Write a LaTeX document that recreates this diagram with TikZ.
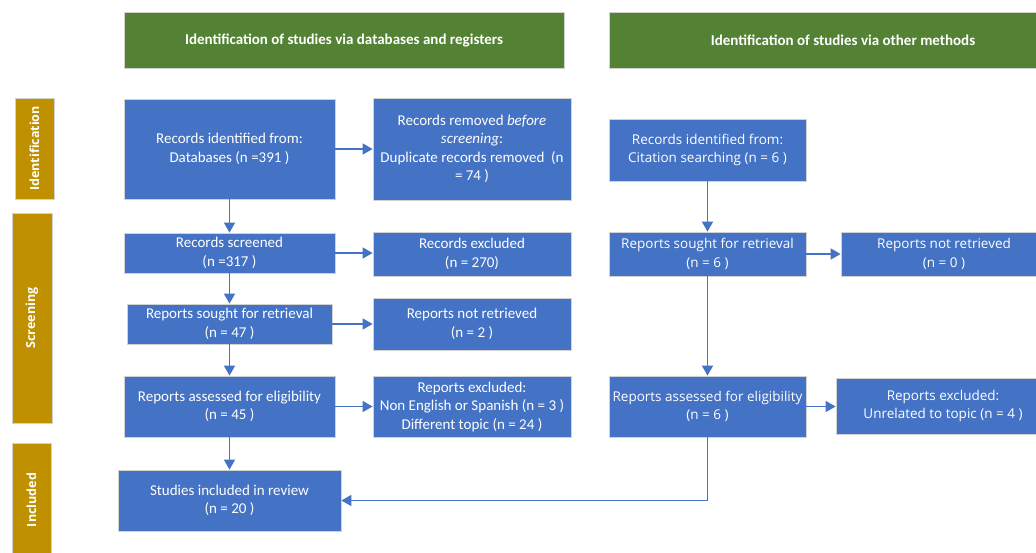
\documentclass[tikz,border=0pt]{standalone}
\usepackage{fontspec}
\setmainfont{Carlito}
\newfontfamily\segoefont{Open Sans}
\usetikzlibrary{arrows.meta}
\definecolor{prismablue}{HTML}{4472C4}
\definecolor{prismagreen}{HTML}{548235}
\definecolor{prismagold}{HTML}{BF9000}
\tikzset{
    box/.style={draw=gray!35,line width=0.8pt,fill=prismablue,text=white,align=center,inner sep=2pt,font=\fontsize{15}{18.5}\selectfont},
    rbox/.style={box,font=\segoefont\fontsize{13.5}{18.5}\selectfont},
    header/.style={draw=gray!35,line width=0.8pt,fill=prismagreen,text=white,font=\bfseries\fontsize{15}{17}\selectfont},
    phase/.style={draw=gray!35,line width=0.8pt,fill=prismagold,text=white,rotate=90,font=\segoefont\bfseries\fontsize{12.5}{14}\selectfont},
    arr/.style={draw=prismablue,line width=1.5pt,-{Triangle[length=10pt,width=11pt]}}
}
\begin{document}
\begin{tikzpicture}[x=1pt,y=-1pt]
    	        \clip (0,0) rectangle (1036,552);
    	        % Headers
    	        \node[header,minimum width=440pt,minimum height=56pt] (hdb) at (344,40) {Identification of studies via databases and registers};
    	        \node[header,minimum width=468pt,minimum height=56pt] (hot) at (843,40) {Identification of studies via other methods};
    	        % Phases
    	        \node[phase,minimum width=101pt,minimum height=39pt] (pid) at (34.5,148.5) {Identification};
    	        \node[phase,minimum width=210pt,minimum height=40pt] (pscr) at (32,318) {Screening};
    	        \node[phase,minimum width=114pt,minimum height=39pt] (pinc) at (31.5,500) {Included};
    	        % Databases and registers
    	        \node[box,minimum width=211pt,minimum height=100pt] (rid) at (229.5,149) {Records identified from:\\Databases (n =391 )};
    	        \node[box,minimum width=198pt,minimum height=102pt] (rrem) at (472,149) {Records removed \textit{before}\\\textit{screening}:\\Duplicate records removed~ (n\\= 74 )};
    	        \node[box,minimum width=211pt,minimum height=40pt] (rscr) at (229.5,253) {Records screened\\(n =317 )};
    	        \node[box,minimum width=198pt,minimum height=44pt] (rexc) at (472,254) {Records excluded\\(n = 270)};
    	        \node[box,minimum width=205pt,minimum height=40pt] (psou) at (229.5,324) {Reports sought for retrieval\\(n = 47 )};
    	        \node[box,minimum width=198pt,minimum height=52pt] (pnot) at (472,324) {Reports not retrieved\\(n = 2 )};
    	        \node[box,minimum width=211pt,minimum height=61pt] (pass) at (229.5,406.5) {Reports assessed for eligibility\\(n = 45 )};
    	        \node[box,minimum width=198pt,minimum height=61pt] (pexc) at (472,406.5) {Reports excluded:\\Non English or Spanish (n = 3 )\\Different topic (n = 24 )};
    	        \node[box,minimum width=223pt,minimum height=61pt] (sinc) at (229.5,500.5) {Studies included in review\\(n = 20 )};
    	        % Other methods
    	        \node[rbox,minimum width=197pt,minimum height=62pt] (ocit) at (707.5,150) {Records identified from:\\Citation searching (n = 6 )};
    	        \node[rbox,minimum width=197pt,minimum height=44pt] (osou) at (707.5,254) {Reports sought for retrieval\\(n = 6 )};
    	        \node[rbox,minimum width=206pt,minimum height=44pt] (onot) at (944,254) {Reports not retrieved\\(n = 0 )};
    	        \node[rbox,minimum width=197pt,minimum height=61pt] (oass) at (707.5,406.5) {Reports assessed for eligibility\\(n = 6 )};
    	        \node[rbox,minimum width=214pt,minimum height=56pt] (oexc) at (943,406) {Reports excluded:\\Unrelated to topic (n = 4 )};
    	        % Arrows, databases
    	        \draw[arr] (rid) -- (rscr);
    	        \draw[arr] (rid.east) -- (rid.east -| rrem.west);
    	        \draw[arr] (rscr) -- (psou);
    	        \draw[arr] (rscr.east) -- (rscr.east -| rexc.west);
    	        \draw[arr] (psou) -- (pass);
    	        \draw[arr] (psou.east) -- (psou.east -| pnot.west);
    	        \draw[arr] (pass) -- (sinc);
    	        \draw[arr] (pass.east) -- (pass.east -| pexc.west);
    	        % Arrows, other methods
    	        \draw[arr] (ocit) -- (osou);
    	        \draw[arr] (osou.east) -- (osou.east -| onot.west);
    	        \draw[arr] (osou) -- (oass);
    	        \draw[arr] (oass.east) -- (oass.east -| oexc.west);
    	        \draw[arr] (oass.south) |- (sinc.east);
    	    \end{tikzpicture}
\end{document}
